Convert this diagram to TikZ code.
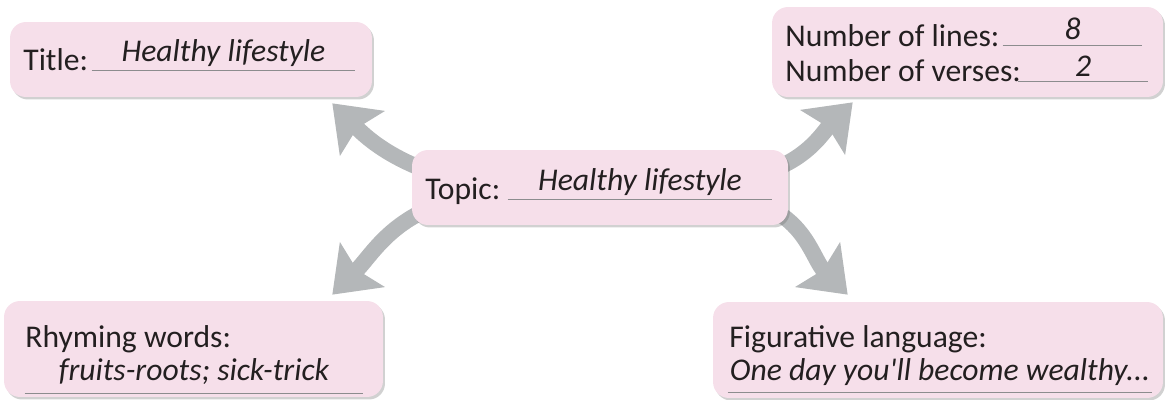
\documentclass[tikz,border=0pt]{standalone}
\usepackage{fontspec}
\setmainfont{Carlito}
\usetikzlibrary{arrows.meta, shadows, backgrounds}
\definecolor{boxpink}{RGB}{246,223,234}
\definecolor{arrowgray}{RGB}{180,183,185}
\definecolor{linegray}{RGB}{140,140,142}
\definecolor{inkgray}{RGB}{35,31,32}

\begin{document}
\begin{tikzpicture}[
  x=0.02cm, y=0.02cm,
  box/.style={fill=boxpink, rounded corners=0.32cm, inner sep=0pt,
              drop shadow={shadow xshift=0.04cm, shadow yshift=-0.05cm,
                           opacity=0.3, fill=black!60}},
  lbl/.style={anchor=base west, inner sep=0pt, text=inkgray,
              font=\fontsize{18}{21}\selectfont},
  ans/.style={anchor=base, inner sep=0pt, text=inkgray,
              font=\fontsize{18}{21}\selectfont\itshape},
  uline/.style={draw=linegray, line width=0.6pt},
  bigarr/.style={draw=arrowgray, line width=0.32cm,
                 -{Stealth[length=0.84cm, width=1.24cm, inset=0.14cm]}},
]
  \useasboundingbox (0,0) rectangle (1165,399);

  % the five boxes
  \node[box, minimum width=7.24cm, minimum height=1.5cm]  (title)   at (191,339.5) {};
  \node[box, minimum width=7.82cm, minimum height=1.8cm]  (numbers) at (967.5,347) {};
  \node[box, minimum width=7.52cm, minimum height=1.5cm]  (topic)   at (600,211.5) {};
  \node[box, minimum width=7.58cm, minimum height=1.92cm] (rhyme)   at (193.5,50) {};
  \node[box, minimum width=9.0cm,  minimum height=1.92cm] (figure)  at (938,49) {};

  % labels
  \node[lbl] (ttllbl)    at (23,328)  {Title:};
  \node[lbl] (toplbl)    at (425,199) {Topic:};
  \node[lbl] (lineslbl)  at (785,352) {Number of lines:};
  \node[lbl] (verseslbl) at (785,317) {Number of verses:};
  \node[lbl] (rhymelbl)  at (25,52)   {Rhyming words:};
  \node[lbl] (figlbl)    at (729,52)  {Figurative language:};

  % answers written on the lines
  \node[ans, minimum width=5.26cm, text depth=0.16cm] (ttlans)    at (223.5,337) {Healthy lifestyle};
  \node[ans, minimum width=5.28cm, text depth=0.16cm] (topans)    at (640,208)   {Healthy lifestyle};
  \node[ans, minimum width=2.78cm, text depth=0.1cm]  (linesans)  at (1072.5,359) {8};
  \node[ans, minimum width=2.6cm,  text depth=0.08cm] (versesans) at (1083,322)  {2};
  \node[ans, minimum width=6.76cm, text depth=0.26cm] (rhymeans)  at (194,19)    {fruits-roots; sick-trick};
  \node[ans, minimum width=8.48cm, text depth=0.24cm] (figans)    at (940,19)    {One day you\textquotesingle ll become wealthy...};

  \foreach \a in {ttlans, topans, linesans, versesans, rhymeans, figans}
    \draw[uline] (\a.south west) -- (\a.south east);

  % arrows out of the topic box
  \begin{scope}[on background layer]
    \draw[bigarr] ([shift={(18,-22)}]topic.north west)
      to[out=160, in=-45] ([shift={(-40,-6)}]title.south east);
    \draw[bigarr] ([shift={(-18,-21)}]topic.north east)
      to[out=20, in=225] ([shift={(81,-5)}]numbers.south west);
    \draw[bigarr] ([shift={(28,21)}]topic.south west)
      to[out=200, in=45] ([shift={(-51,6)}]rhyme.north east);
    \draw[bigarr] ([shift={(-28,21)}]topic.south east)
      to[out=-20, in=135] ([shift={(135,7)}]figure.north west);
  \end{scope}
\end{tikzpicture}
\end{document}
